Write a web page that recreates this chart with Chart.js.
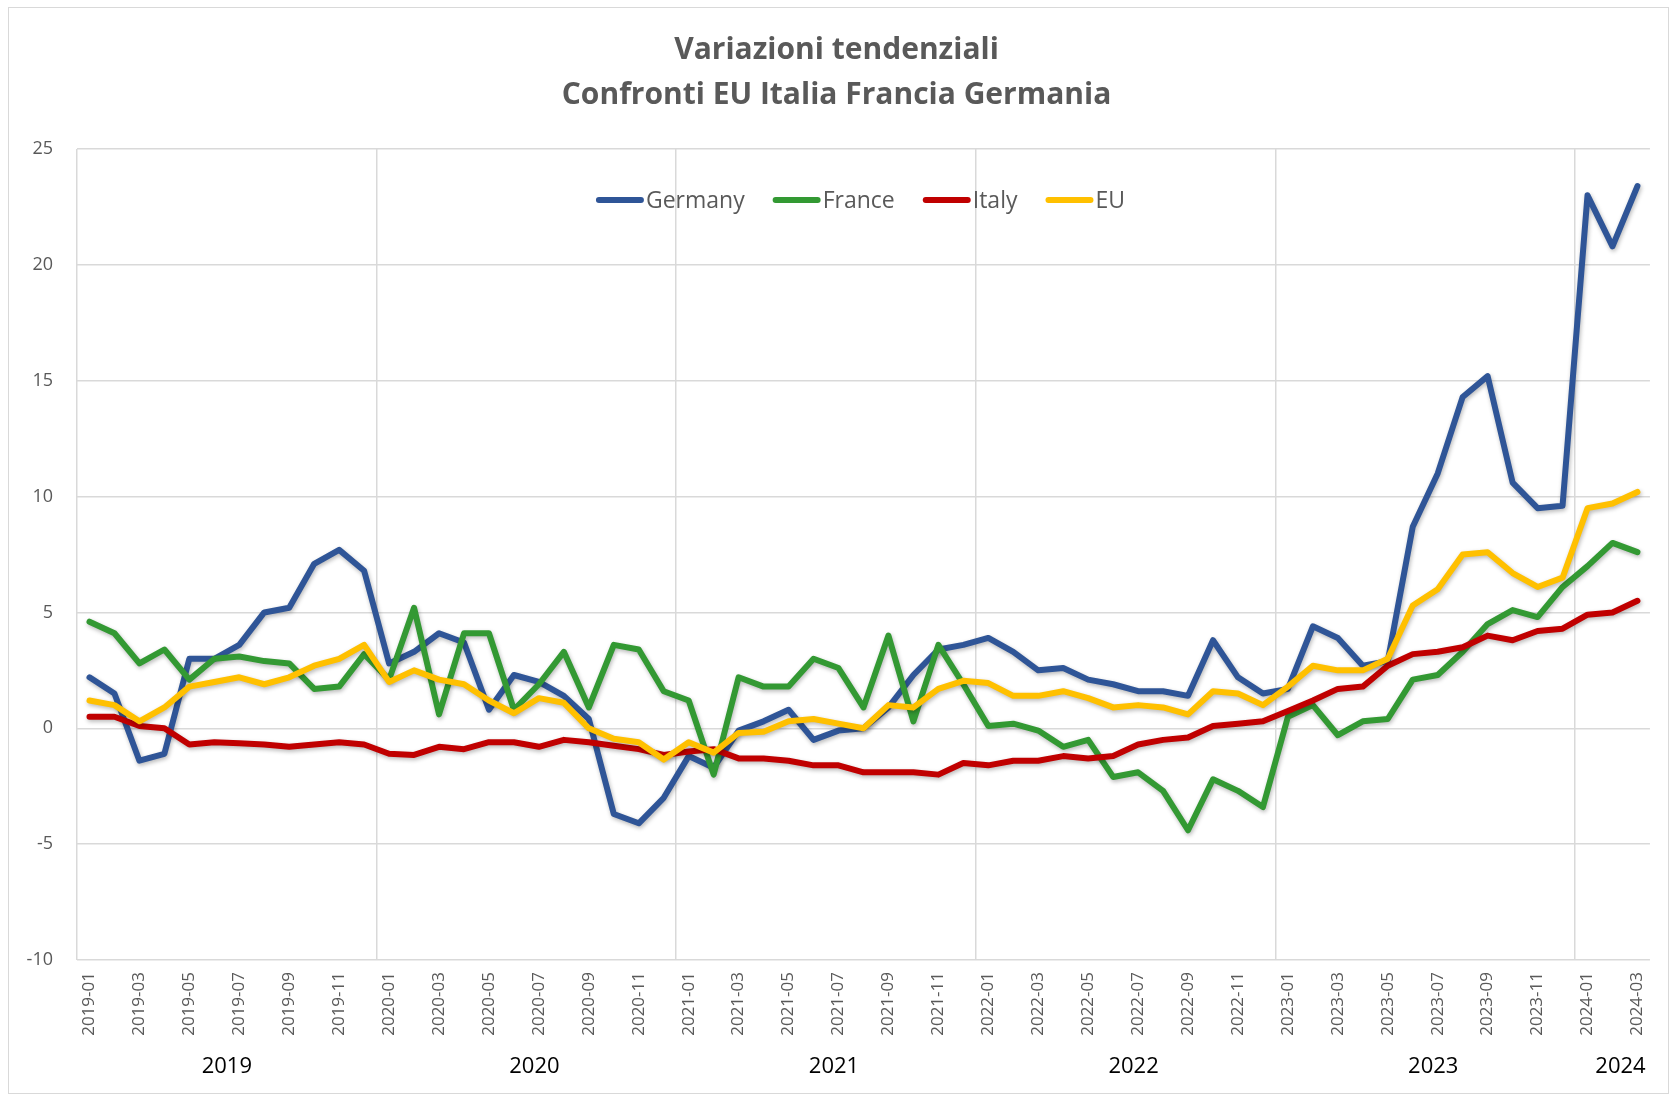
<!DOCTYPE html>
<html>
<head>
<meta charset="utf-8">
<script src="https://cdn.jsdelivr.net/npm/chart.js@4.4.1/dist/chart.umd.min.js"></script>
<style>
  html, body { margin: 0; padding: 0; background: #fff; }
  #wrap { position: relative; width: 1670px; height: 1095px; }
  #frame { position: absolute; left: 8px; top: 7px; right: 1px; bottom: 1px; border: 1.5px solid #d9d9d9; pointer-events: none; }
</style>
</head>
<body>
<div id="wrap">
  <canvas id="chart"></canvas>
  <div id="frame"></div>
</div>
<script>
// categories
const months = [
  '2019-01','2019-02','2019-03','2019-04','2019-05','2019-06','2019-07','2019-08','2019-09','2019-10','2019-11','2019-12',
  '2020-01','2020-02','2020-03','2020-04','2020-05','2020-06','2020-07','2020-08','2020-09','2020-10','2020-11','2020-12',
  '2021-01','2021-02','2021-03','2021-04','2021-05','2021-06','2021-07','2021-08','2021-09','2021-10','2021-11','2021-12',
  '2022-01','2022-02','2022-03','2022-04','2022-05','2022-06','2022-07','2022-08','2022-09','2022-10','2022-11','2022-12',
  '2023-01','2023-02','2023-03','2023-04','2023-05','2023-06','2023-07','2023-08','2023-09','2023-10','2023-11','2023-12',
  '2024-01','2024-02','2024-03'
];
const years = ['2019', '2020', '2021', '2022', '2023', '2024'];

// series values (year-on-year %)
const germany = [
  2.2, 1.5, -1.4, -1.1, 3.0, 3.0, 3.6, 5.0, 5.2, 7.1, 7.7, 6.8,
  2.8, 3.3, 4.1, 3.7, 0.8, 2.3, 2.0, 1.4, 0.4, -3.7, -4.1, -3.0,
  -1.2, -1.7, -0.1, 0.3, 0.8, -0.5, -0.1, 0.0, 0.9, 2.3, 3.4, 3.6,
  3.9, 3.3, 2.5, 2.6, 2.1, 1.9, 1.6, 1.6, 1.4, 3.8, 2.2, 1.5,
  1.7, 4.4, 3.9, 2.7, 2.9, 8.7, 11.0, 14.3, 15.2, 10.6, 9.5, 9.6,
  23.0, 20.8, 23.4
];
const france = [
  4.6, 4.1, 2.8, 3.4, 2.1, 3.0, 3.1, 2.9, 2.8, 1.7, 1.8, 3.2,
  2.1, 5.2, 0.6, 4.1, 4.1, 0.8, 1.9, 3.3, 0.9, 3.6, 3.4, 1.6,
  1.2, -2.0, 2.2, 1.8, 1.8, 3.0, 2.6, 0.9, 4.0, 0.3, 3.6, 1.9,
  0.1, 0.2, -0.1, -0.8, -0.5, -2.1, -1.9, -2.7, -4.4, -2.2, -2.7, -3.4,
  0.5, 1.0, -0.3, 0.3, 0.4, 2.1, 2.3, 3.3, 4.5, 5.1, 4.8, 6.1,
  7.0, 8.0, 7.6
];
const italy = [
  0.5, 0.5, 0.1, 0.0, -0.7, -0.6, -0.65, -0.7, -0.8, -0.7, -0.6, -0.7,
  -1.1, -1.15, -0.8, -0.9, -0.6, -0.6, -0.8, -0.5, -0.6, -0.75, -0.9, -1.15,
  -1.0, -0.9, -1.3, -1.3, -1.4, -1.6, -1.6, -1.9, -1.9, -1.9, -2.0, -1.5,
  -1.6, -1.4, -1.4, -1.2, -1.3, -1.2, -0.7, -0.5, -0.4, 0.1, 0.2, 0.3,
  0.75, 1.2, 1.7, 1.8, 2.7, 3.2, 3.3, 3.5, 4.0, 3.8, 4.2, 4.3,
  4.9, 5.0, 5.5
];
const eu = [
  1.2, 1.0, 0.3, 0.9, 1.8, 2.0, 2.2, 1.9, 2.2, 2.7, 3.0, 3.6,
  2.0, 2.5, 2.1, 1.9, 1.2, 0.65, 1.3, 1.1, 0.0, -0.45, -0.6, -1.35,
  -0.6, -1.05, -0.2, -0.15, 0.3, 0.4, 0.2, 0.0, 1.0, 0.9, 1.7, 2.05,
  1.95, 1.4, 1.4, 1.6, 1.3, 0.9, 1.0, 0.9, 0.6, 1.6, 1.5, 1.0,
  1.8, 2.7, 2.5, 2.5, 3.0, 5.3, 6.0, 7.5, 7.6, 6.7, 6.1, 6.5,
  9.5, 9.7, 10.2
];

const FONT = "'Open Sans', sans-serif";
Chart.defaults.font.family = FONT;
Chart.defaults.color = '#595959';

// soft shadow under each line, like the Excel original
const lineShadow = {
  id: 'lineShadow',
  beforeDatasetDraw(chart) {
    const ctx = chart.ctx;
    ctx.save();
    ctx.shadowColor = 'rgba(0,0,0,0.28)';
    ctx.shadowBlur = 4;
    ctx.shadowOffsetX = 1;
    ctx.shadowOffsetY = 2;
  },
  afterDatasetDraw(chart) {
    chart.ctx.restore();
  }
};

// legend drawn inside the plot area, top centre
const insideLegend = {
  id: 'insideLegend',
  afterDatasetsDraw(chart) {
    const {ctx, chartArea} = chart;
    const sw = 48, gapText = 2, gapItem = 28;
    ctx.save();
    ctx.font = '23px ' + FONT;
    const items = chart.data.datasets.map(d => ({
      label: d.label, color: d.borderColor, w: ctx.measureText(d.label).width
    }));
    const total = items.reduce((s, it) => s + sw + gapText + it.w, 0) + gapItem * (items.length - 1);
    let x = (chartArea.left + chartArea.right) / 2 - total / 2 - 3;
    const y = chartArea.top + 51;
    ctx.textBaseline = 'middle';
    ctx.textAlign = 'left';
    items.forEach(it => {
      ctx.strokeStyle = it.color;
      ctx.lineWidth = 6;
      ctx.lineCap = 'round';
      ctx.beginPath();
      ctx.moveTo(x + 3, y);
      ctx.lineTo(x + sw - 3, y);
      ctx.stroke();
      ctx.fillStyle = '#595959';
      ctx.fillText(it.label, x + sw + gapText, y + 1);
      x += sw + gapText + it.w + gapItem;
    });
    ctx.restore();
  }
};

// second row of category labels: the years
const yearLabels = {
  id: 'yearLabels',
  afterDraw(chart) {
    const {ctx} = chart;
    const xs = chart.scales.x;
    ctx.save();
    ctx.font = '22px ' + FONT;
    ctx.fillStyle = '#000';
    ctx.textAlign = 'center';
    ctx.textBaseline = 'middle';
    years.forEach(yr => {
      const first = months.findIndex(m => m.startsWith(yr));
      let last = first;
      months.forEach((m, i) => { if (m.startsWith(yr)) last = i; });
      const cx = (xs.getPixelForValue(first) + xs.getPixelForValue(last)) / 2;
      ctx.fillText(yr, cx + (first === 0 ? 0 : 8), 1067);
    });
    ctx.restore();
  }
};

const chart = new Chart(document.getElementById('chart'), {
  type: 'line',
  data: {
    labels: months,
    datasets: [
      { label: 'Germany', data: germany, borderColor: '#2F5597', order: 4 },
      { label: 'France', data: france, borderColor: '#339933', order: 3 },
      { label: 'Italy', data: italy, borderColor: '#C00000', order: 2 },
      { label: 'EU', data: eu, borderColor: '#FFC000', order: 1 }
    ]
  },
  options: {
    responsive: true,
    maintainAspectRatio: false,
    animation: false,
    layout: { padding: { left: 22, right: 19, top: 0, bottom: 0 } },
    elements: {
      line: { borderWidth: 6, tension: 0, borderJoinStyle: 'round', borderCapStyle: 'round', fill: false },
      point: { radius: 0, hoverRadius: 0 }
    },
    plugins: {
      legend: { display: false },
      tooltip: { enabled: false },
      title: {
        display: true,
        text: ['Variazioni tendenziali', 'Confronti EU Italia Francia Germania'],
        color: '#595959',
        font: { size: 30, weight: 'bold', lineHeight: 1.5 },
        padding: { top: 28, bottom: 31 }
      }
    },
    scales: {
      x: {
        offset: true,
        afterFit(s) { s.height = 135; },
        border: { display: false },
        grid: {
          offset: true,
          drawTicks: false,
          lineWidth: 1.5,
          color: c => (c.index % 12 === 0 && c.index < months.length) ? '#d9d9d9' : 'rgba(0,0,0,0)'
        },
        ticks: {
          autoSkip: false,
          minRotation: 90,
          maxRotation: 90,
          padding: 12,
          color: '#595959',
          font: { size: 17 },
          callback(value, index) { return index % 2 === 0 ? this.getLabelForValue(value) : ''; }
        }
      },
      y: {
        min: -10,
        max: 25,
        afterFit(s) { s.width = 55; },
        border: { display: false },
        grid: { color: '#d9d9d9', lineWidth: 1.5, drawTicks: false },
        ticks: { stepSize: 5, padding: 24, color: '#595959', font: { size: 18 } }
      }
    }
  },
  plugins: [lineShadow, insideLegend, yearLabels]
});
</script>
</body>
</html>
